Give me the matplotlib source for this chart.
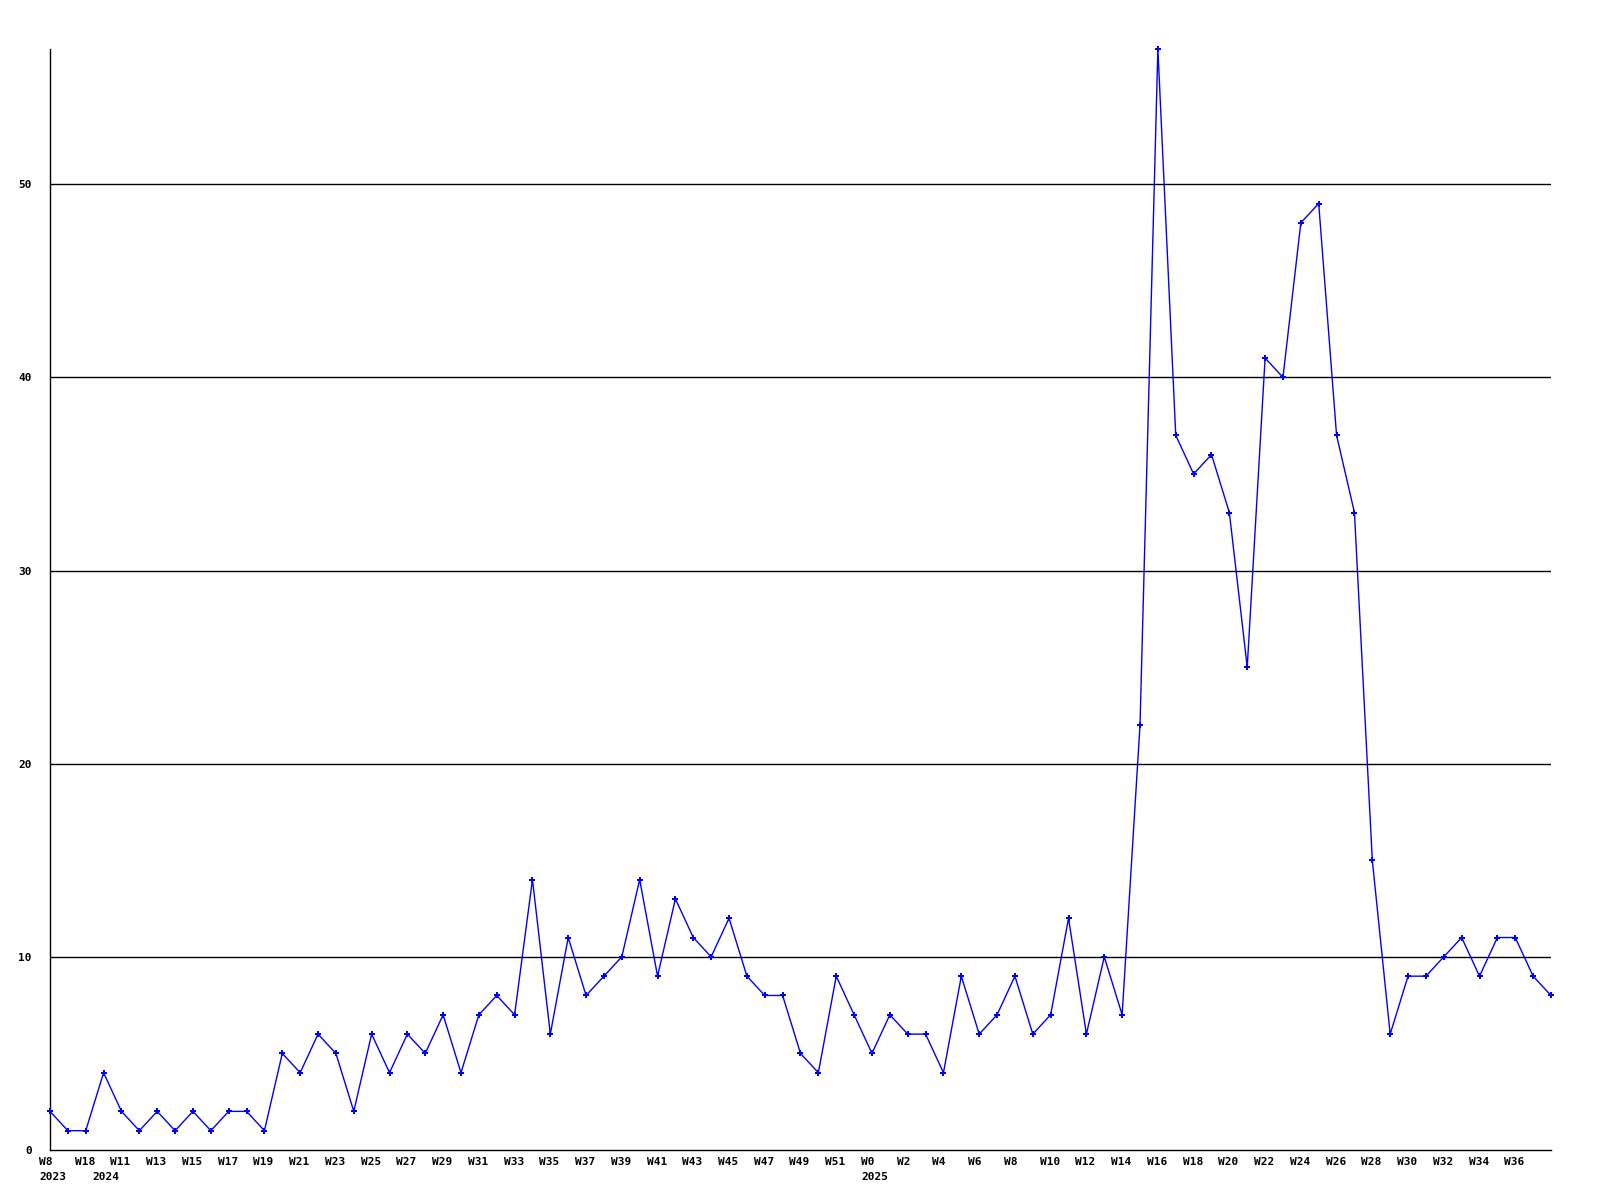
import matplotlib
matplotlib.use("Agg")
import matplotlib.pyplot as plt
import matplotlib.transforms as mtransforms

# weekly counts
values = [2, 1, 1, 4, 2, 1, 2, 1, 2, 1, 2, 2, 1, 5, 4, 6, 5, 2, 6, 4,
          6, 5, 7, 4, 7, 8, 7, 14, 6, 11, 8, 9, 10, 14, 9, 13, 11, 10, 12, 9,
          8, 8, 5, 4, 9, 7, 5, 7, 6, 6, 4, 9, 6, 7, 9, 6, 7, 12, 6, 10,
          7, 22, 57, 37, 35, 36, 33, 25, 41, 40, 48, 49, 37, 33, 15, 6, 9, 9, 10, 11,
          9, 11, 11, 9, 8]

week_labels = ["W8", "W18", "W11", "W13", "W15", "W17", "W19", "W21", "W23", "W25",
               "W27", "W29", "W31", "W33", "W35", "W37", "W39", "W41", "W43", "W45",
               "W47", "W49", "W51", "W0", "W2", "W4", "W6", "W8", "W10", "W12",
               "W14", "W16", "W18", "W20", "W22", "W24", "W26", "W28", "W30", "W32",
               "W34", "W36"]
week_pos = list(range(0, 84, 2))

year_labels = ["2023", "2024", "2025"]
year_pos = [0, 3, 46]

y_ticks = [0, 10, 20, 30, 40, 50]

fig = plt.figure(figsize=(16, 12), dpi=100)
ax = fig.add_axes([50 / 1600, 1 - 1150 / 1200, 1501 / 1600, 1101 / 1200])

x = list(range(len(values)))
ax.plot(x, values, color="#0000ff", linewidth=1.0, marker="P", markersize=4,
        markeredgewidth=0, clip_on=False, zorder=3)

for y in y_ticks[1:]:
    ax.axhline(y, color="black", linewidth=1.0, zorder=1)

ax.set_xlim(0, len(values) - 1)
ax.set_ylim(0, max(values))

for s in ["top", "right"]:
    ax.spines[s].set_visible(False)
for s in ["left", "bottom"]:
    ax.spines[s].set_linewidth(1.0)
    ax.spines[s].set_color("black")

font = dict(family="DejaVu Sans Mono", weight="bold", size=8)

ax.set_yticks(y_ticks)
ax.set_yticklabels([str(v) for v in y_ticks], **font)
ax.tick_params(axis="y", length=0, pad=13)

# year labels sit on their own row, some share a spot with a week label
ax.xaxis.remove_overlapping_locs = False
ax.set_xticks(week_pos)
ax.set_xticklabels(week_labels, **font)
ax.set_xticks(year_pos, minor=True)
ax.set_xticklabels(year_labels, minor=True, **font)
ax.tick_params(axis="x", which="major", length=0, pad=5)
ax.tick_params(axis="x", which="minor", length=0, pad=16)

shift = mtransforms.ScaledTranslation(-11 / 100, 0, fig.dpi_scale_trans)
for lab in ax.get_xticklabels() + ax.get_xticklabels(minor=True):
    lab.set_horizontalalignment("left")
    lab.set_transform(lab.get_transform() + shift)

fig.savefig("out.png", dpi=100, facecolor="white")
